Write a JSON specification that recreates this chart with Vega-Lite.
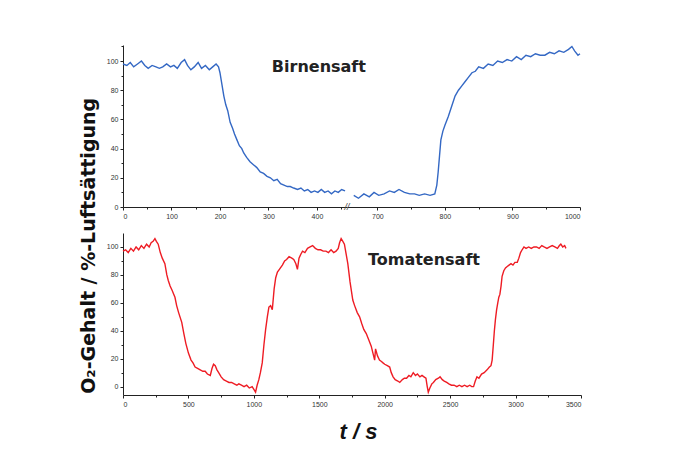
{
  "$schema": "https://vega.github.io/schema/vega-lite/v6.json",
  "padding": {"left": 80, "top": 43, "right": 5, "bottom": 5},
  "background": "white",
  "title": {"text": "O₂-Gehalt / %-Luftsättigung", "orient": "left", "anchor": "middle", "fontSize": 19, "fontWeight": "bold", "color": "#111", "font": "DejaVu Sans", "offset": 7, "dx": -3},
  "config": {
    "view": {"stroke": null},
    "font": "Liberation Sans",
    "axis": {"grid": false, "labelFontSize": 7, "labelColor": "#333", "tickSize": 3, "domainColor": "#222", "tickColor": "#222", "labelPadding": 2, "format": "d", "labelOverlap": false}
  },
  "datasets": {
    "birneA": [
      {"t":0,"o2":98},{"t":8,"o2":97},{"t":15,"o2":99},{"t":22,"o2":96},{"t":30,"o2":98},{"t":38,"o2":100},{"t":45,"o2":97},{"t":52,"o2":95},{"t":60,"o2":97},{"t":68,"o2":96},{"t":75,"o2":95},{"t":82,"o2":96},{"t":90,"o2":98},{"t":98,"o2":96},{"t":105,"o2":97},{"t":112,"o2":95},{"t":120,"o2":99},{"t":127,"o2":101},{"t":133,"o2":97},{"t":140,"o2":94},{"t":147,"o2":96},{"t":155,"o2":99},{"t":162,"o2":95},{"t":170,"o2":97},{"t":178,"o2":94},{"t":185,"o2":96},{"t":192,"o2":98},{"t":197,"o2":96},{"t":200,"o2":92},{"t":204,"o2":84},{"t":208,"o2":76},{"t":212,"o2":70},{"t":216,"o2":66},{"t":221,"o2":58},{"t":226,"o2":54},{"t":230,"o2":50},{"t":235,"o2":46},{"t":240,"o2":42},{"t":245,"o2":40},{"t":249,"o2":37},{"t":255,"o2":34},{"t":262,"o2":31},{"t":269,"o2":29},{"t":276,"o2":27},{"t":283,"o2":24},{"t":290,"o2":23},{"t":297,"o2":21},{"t":304,"o2":20},{"t":311,"o2":18},{"t":318,"o2":19},{"t":325,"o2":16},{"t":332,"o2":15},{"t":339,"o2":14},{"t":345,"o2":14},{"t":352,"o2":13},{"t":360,"o2":12},{"t":367,"o2":13},{"t":374,"o2":11},{"t":381,"o2":12},{"t":388,"o2":10},{"t":395,"o2":11},{"t":402,"o2":10},{"t":409,"o2":12},{"t":416,"o2":10},{"t":423,"o2":11},{"t":430,"o2":9},{"t":437,"o2":11},{"t":444,"o2":10},{"t":451,"o2":12},{"t":458,"o2":11}
    ],
    "birneB": [
      {"t":665,"o2":8},{"t":672,"o2":6},{"t":680,"o2":9},{"t":688,"o2":7},{"t":695,"o2":10},{"t":702,"o2":8},{"t":710,"o2":9},{"t":718,"o2":11},{"t":725,"o2":10},{"t":732,"o2":12},{"t":740,"o2":10},{"t":748,"o2":9},{"t":755,"o2":9},{"t":762,"o2":8},{"t":770,"o2":9},{"t":778,"o2":8},{"t":785,"o2":9},{"t":788,"o2":15},{"t":790,"o2":24},{"t":792,"o2":35},{"t":794,"o2":46},{"t":797,"o2":52},{"t":800,"o2":56},{"t":805,"o2":62},{"t":810,"o2":69},{"t":815,"o2":76},{"t":820,"o2":80},{"t":825,"o2":83},{"t":830,"o2":86},{"t":835,"o2":89},{"t":840,"o2":92},{"t":845,"o2":93},{"t":850,"o2":96},{"t":857,"o2":95},{"t":864,"o2":98},{"t":871,"o2":97},{"t":878,"o2":100},{"t":885,"o2":99},{"t":892,"o2":101},{"t":899,"o2":100},{"t":906,"o2":103},{"t":913,"o2":101},{"t":920,"o2":104},{"t":927,"o2":103},{"t":934,"o2":105},{"t":941,"o2":104},{"t":948,"o2":104},{"t":955,"o2":106},{"t":962,"o2":105},{"t":969,"o2":107},{"t":976,"o2":106},{"t":983,"o2":108},{"t":988,"o2":110},{"t":992,"o2":107},{"t":997,"o2":104},{"t":1000,"o2":105}
    ],
    "tomate": [
      {"t":0,"o2":97},{"t":20,"o2":98},{"t":40,"o2":96},{"t":60,"o2":99},{"t":80,"o2":97},{"t":100,"o2":100},{"t":120,"o2":98},{"t":140,"o2":101},{"t":160,"o2":99},{"t":180,"o2":102},{"t":200,"o2":100},{"t":215,"o2":103},{"t":230,"o2":104},{"t":244,"o2":106},{"t":255,"o2":104},{"t":269,"o2":102},{"t":285,"o2":96},{"t":300,"o2":92},{"t":320,"o2":88},{"t":335,"o2":80},{"t":346,"o2":76},{"t":360,"o2":72},{"t":375,"o2":69},{"t":397,"o2":64},{"t":410,"o2":58},{"t":425,"o2":53},{"t":449,"o2":46},{"t":465,"o2":38},{"t":480,"o2":31},{"t":500,"o2":24},{"t":520,"o2":19},{"t":535,"o2":17},{"t":551,"o2":14},{"t":570,"o2":13},{"t":590,"o2":12},{"t":610,"o2":11},{"t":628,"o2":11},{"t":645,"o2":9},{"t":667,"o2":8},{"t":680,"o2":13},{"t":692,"o2":16},{"t":705,"o2":15},{"t":718,"o2":12},{"t":731,"o2":10},{"t":750,"o2":7},{"t":769,"o2":5},{"t":790,"o2":4},{"t":810,"o2":3},{"t":830,"o2":3},{"t":850,"o2":2},{"t":870,"o2":1},{"t":885,"o2":2},{"t":905,"o2":1},{"t":925,"o2":0},{"t":945,"o2":1},{"t":965,"o2":-1},{"t":987,"o2":0},{"t":1000,"o2":-2},{"t":1013,"o2":-4},{"t":1025,"o2":1},{"t":1038,"o2":5},{"t":1050,"o2":10},{"t":1064,"o2":17},{"t":1077,"o2":30},{"t":1090,"o2":41},{"t":1103,"o2":50},{"t":1115,"o2":57},{"t":1128,"o2":58},{"t":1141,"o2":55},{"t":1155,"o2":70},{"t":1167,"o2":78},{"t":1180,"o2":82},{"t":1195,"o2":84},{"t":1218,"o2":87},{"t":1235,"o2":90},{"t":1250,"o2":91},{"t":1269,"o2":93},{"t":1290,"o2":92},{"t":1305,"o2":91},{"t":1321,"o2":88},{"t":1333,"o2":84},{"t":1345,"o2":92},{"t":1360,"o2":95},{"t":1372,"o2":97},{"t":1390,"o2":96},{"t":1410,"o2":99},{"t":1430,"o2":100},{"t":1449,"o2":101},{"t":1470,"o2":99},{"t":1490,"o2":98},{"t":1510,"o2":98},{"t":1530,"o2":97},{"t":1551,"o2":97},{"t":1570,"o2":96},{"t":1590,"o2":98},{"t":1610,"o2":96},{"t":1628,"o2":97},{"t":1645,"o2":99},{"t":1655,"o2":103},{"t":1667,"o2":106},{"t":1680,"o2":104},{"t":1692,"o2":102},{"t":1705,"o2":95},{"t":1718,"o2":88},{"t":1735,"o2":75},{"t":1756,"o2":62},{"t":1770,"o2":58},{"t":1790,"o2":53},{"t":1808,"o2":50},{"t":1825,"o2":45},{"t":1840,"o2":41},{"t":1859,"o2":38},{"t":1880,"o2":33},{"t":1897,"o2":29},{"t":1910,"o2":24},{"t":1923,"o2":19},{"t":1930,"o2":27},{"t":1945,"o2":22},{"t":1960,"o2":19},{"t":1975,"o2":18},{"t":1987,"o2":17},{"t":2000,"o2":16},{"t":2020,"o2":15},{"t":2038,"o2":14},{"t":2050,"o2":10},{"t":2064,"o2":7},{"t":2080,"o2":5},{"t":2100,"o2":4},{"t":2115,"o2":3},{"t":2135,"o2":5},{"t":2150,"o2":6},{"t":2167,"o2":6},{"t":2185,"o2":8},{"t":2200,"o2":7},{"t":2218,"o2":10},{"t":2235,"o2":8},{"t":2250,"o2":9},{"t":2269,"o2":7},{"t":2285,"o2":8},{"t":2300,"o2":7},{"t":2315,"o2":6},{"t":2325,"o2":0},{"t":2333,"o2":-4},{"t":2345,"o2":-1},{"t":2360,"o2":2},{"t":2372,"o2":3},{"t":2390,"o2":5},{"t":2410,"o2":6},{"t":2423,"o2":7},{"t":2440,"o2":5},{"t":2455,"o2":4},{"t":2474,"o2":3},{"t":2490,"o2":2},{"t":2510,"o2":1},{"t":2530,"o2":1},{"t":2551,"o2":0},{"t":2570,"o2":1},{"t":2590,"o2":0},{"t":2610,"o2":1},{"t":2630,"o2":0},{"t":2650,"o2":1},{"t":2665,"o2":0},{"t":2679,"o2":0},{"t":2692,"o2":4},{"t":2705,"o2":7},{"t":2720,"o2":6},{"t":2740,"o2":9},{"t":2760,"o2":10},{"t":2782,"o2":12},{"t":2800,"o2":14},{"t":2812,"o2":15},{"t":2821,"o2":19},{"t":2830,"o2":30},{"t":2838,"o2":40},{"t":2846,"o2":48},{"t":2855,"o2":55},{"t":2864,"o2":60},{"t":2872,"o2":64},{"t":2880,"o2":66},{"t":2889,"o2":72},{"t":2897,"o2":79},{"t":2910,"o2":83},{"t":2923,"o2":85},{"t":2936,"o2":86},{"t":2950,"o2":87},{"t":2965,"o2":88},{"t":2980,"o2":87},{"t":2995,"o2":89},{"t":3013,"o2":89},{"t":3025,"o2":92},{"t":3038,"o2":96},{"t":3050,"o2":98},{"t":3064,"o2":100},{"t":3080,"o2":99},{"t":3100,"o2":100},{"t":3120,"o2":99},{"t":3140,"o2":100},{"t":3160,"o2":100},{"t":3180,"o2":99},{"t":3200,"o2":101},{"t":3218,"o2":100},{"t":3240,"o2":99},{"t":3260,"o2":100},{"t":3280,"o2":101},{"t":3300,"o2":100},{"t":3320,"o2":99},{"t":3335,"o2":101},{"t":3346,"o2":102},{"t":3360,"o2":100},{"t":3375,"o2":101},{"t":3385,"o2":99}
    ],
    "labelTop": [{"t":404,"o2":96,"label":"Birnensaft"}],
    "labelBreak": [{"t":655,"o2":0,"label":"//"}],
    "labelBottom": [{"t":2300,"o2":91,"label":"Tomatensaft"}]
  },
  "vconcat": [
    {
      "hconcat": [
        {
          "width": 224,
          "height": 162,
          "resolve": {"axis": {"x": "independent", "y": "independent"}},
          "layer": [
            {
              "data": {"name": "birneA"},
              "mark": {"type": "line", "color": "#3468c4", "strokeWidth": 1.4},
              "encoding": {
                "x": {"field": "t", "type": "quantitative", "scale": {"domain": [0, 462], "nice": false, "zero": false}, "axis": {"orient": "bottom", "values": [0, 100, 200, 300, 400], "title": null}},
                "y": {"field": "o2", "type": "quantitative", "scale": {"domain": [0, 111], "nice": false}, "axis": {"orient": "left", "values": [0, 20, 40, 60, 80, 100], "title": null}}
              }
            },
            {
              "data": {"name": "labelTop"},
              "mark": {"type": "text", "fontSize": 16, "fontWeight": "bold", "color": "#222", "font": "DejaVu Sans"},
              "encoding": {
                "x": {"field": "t", "type": "quantitative", "axis": {"orient": "bottom", "values": [50, 150, 250, 350, 450], "labels": false, "domain": false, "tickSize": 2, "title": null}},
                "y": {"field": "o2", "type": "quantitative", "axis": {"orient": "left", "values": [10, 30, 50, 70, 90, 110], "labels": false, "domain": false, "tickSize": 2, "title": null}},
                "text": {"field": "label"}
              }
            }
          ]
        },
        {
          "width": 233,
          "height": 162,
          "resolve": {"axis": {"x": "independent"}},
          "layer": [
            {
              "data": {"name": "birneB"},
              "mark": {"type": "line", "color": "#3468c4", "strokeWidth": 1.4},
              "encoding": {
                "x": {"field": "t", "type": "quantitative", "scale": {"domain": [655, 1000], "nice": false, "zero": false}, "axis": {"orient": "bottom", "values": [700, 800, 900, 1000], "title": null}},
                "y": {"field": "o2", "type": "quantitative", "scale": {"domain": [0, 111], "nice": false}, "axis": null}
              }
            },
            {
              "data": {"name": "labelBreak"},
              "mark": {"type": "text", "fontSize": 9, "color": "#444", "fontStyle": "italic"},
              "encoding": {
                "x": {"field": "t", "type": "quantitative", "axis": {"orient": "bottom", "values": [750, 850, 950], "labels": false, "domain": false, "tickSize": 2, "title": null}},
                "y": {"field": "o2", "type": "quantitative", "axis": null},
                "text": {"field": "label"}
              }
            }
          ]
        }
      ],
      "spacing": 0,
      "bounds": "flush"
    },
    {
      "width": 458,
      "height": 162,
      "resolve": {"axis": {"x": "independent", "y": "independent"}},
      "layer": [
        {
          "data": {"name": "tomate"},
          "mark": {"type": "line", "color": "#ee1c24", "strokeWidth": 1.4},
          "encoding": {
            "x": {"field": "t", "type": "quantitative", "scale": {"domain": [0, 3500], "nice": false}, "axis": {"orient": "bottom", "values": [0, 500, 1000, 1500, 2000, 2500, 3000, 3500], "title": "t / s", "titleFontSize": 22, "titleFontWeight": "bold", "titleFontStyle": "italic", "titleColor": "#111", "titlePadding": 14, "titleX": 235}},
            "y": {"field": "o2", "type": "quantitative", "scale": {"domain": [-6, 110], "nice": false}, "axis": {"orient": "left", "values": [0, 20, 40, 60, 80, 100], "title": null}}
          }
        },
        {
          "data": {"name": "labelBottom"},
          "mark": {"type": "text", "fontSize": 16, "fontWeight": "bold", "color": "#222", "font": "DejaVu Sans"},
          "encoding": {
            "x": {"field": "t", "type": "quantitative", "axis": {"orient": "bottom", "values": [250, 750, 1250, 1750, 2250, 2750, 3250], "labels": false, "domain": false, "tickSize": 2, "title": null}},
            "y": {"field": "o2", "type": "quantitative", "axis": {"orient": "left", "values": [10, 30, 50, 70, 90], "labels": false, "domain": false, "tickSize": 2, "title": null}},
            "text": {"field": "label"}
          }
        }
      ]
    }
  ],
  "spacing": 14
}
